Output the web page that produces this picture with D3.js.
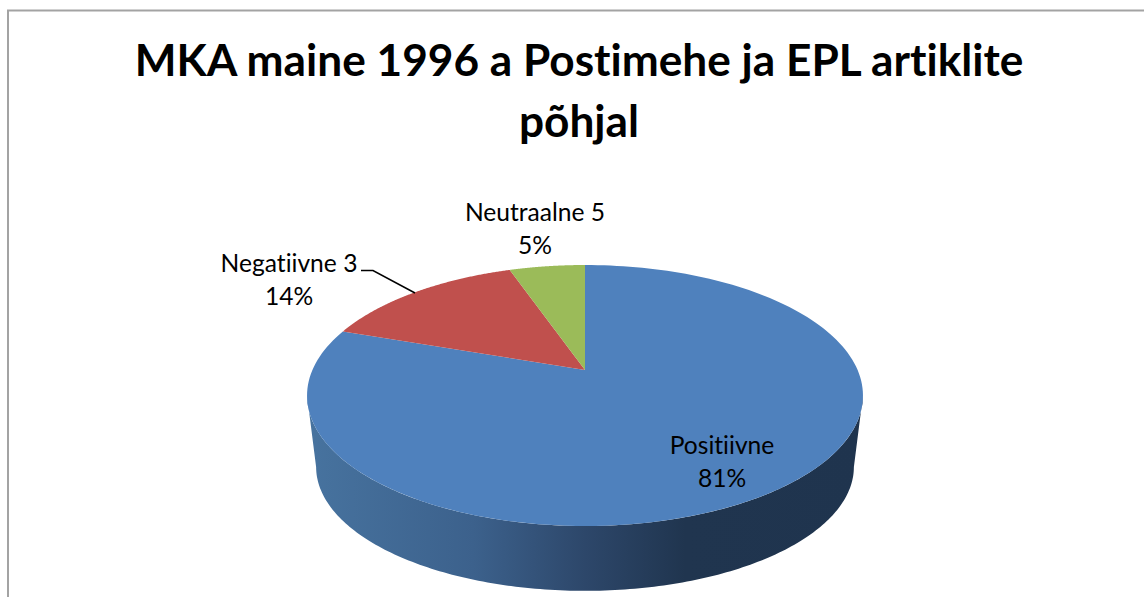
<!DOCTYPE html>
<html>
<head>
<meta charset="utf-8">
<script src="https://cdn.jsdelivr.net/npm/d3@7"></script>
<style>
  html, body { margin: 0; padding: 0; background: #fff; overflow: hidden; }
  text { font-family: Lato, "Open Sans", sans-serif; fill: #000; font-variant-ligatures: none; }
</style>
</head>
<body>
<div id="chart"></div>
<script>
let titleLines = ['MKA maine 1996 a Postimehe ja EPL artiklite', 'põhjal']
let categories = ['Positiivne', 'Negatiivne 3', 'Neutraalne 5']
let percentLabels = ['81%', '14%', '5%']
// slice sizes as measured on the picture, the printed labels are rounded
let sliceShares = [80.3, 14.4, 5.3]
let colors = ['#4f81bd', '#c0504d', '#9bbb59']

let width = 1144
let height = 597

let svg = d3
  .select('#chart')
  .append('svg')
  .attr('width', width)
  .attr('height', height)

// chart frame, cut off by the right and bottom of the picture
svg
  .append('path')
  .attr('d', `M8,${height} V10.5 H${width}`)
  .attr('fill', 'none')
  .attr('stroke', '#a3a3a3')
  .attr('stroke-width', 2)

svg
  .selectAll('.title')
  .data(titleLines)
  .enter()
  .append('text')
  .attr('class', 'title')
  .attr('x', 579)
  .attr('y', (d, i) => 76 + i * 61)
  .attr('text-anchor', 'middle')
  .attr('font-size', 44.2)
  .attr('font-weight', 'bold')
  .text(d => d)

// the 3d look: a circle seen through a perspective projection
let tilt = 0.1954
let topRing = { x: 585, y: 370, rx: 272.6, ry: 125.5 }
let bottomRing = { x: 585, y: 442.7, rx: 263.7, ry: 119.2 }

function project(ring, angle) {
  let u = Math.sin(angle)
  let v = Math.cos(angle)
  let w = 1 + tilt * v
  return [ring.x + (ring.rx * u) / w, ring.y - (ring.ry * v) / w]
}

function arcPoints(ring, from, to) {
  let steps = 180
  return d3.range(steps + 1).map(i => project(ring, from + ((to - from) * i) / steps))
}

let line = d3.line()

// side wall, from the widest point on the right round the front to the left
let wallStart = Math.acos(-tilt)
let wallEnd = Math.PI * 2 - wallStart

let defs = svg.append('defs')
let wallGradient = defs
  .append('linearGradient')
  .attr('id', 'wall')
  .attr('gradientUnits', 'userSpaceOnUse')
  .attr('x1', 307)
  .attr('x2', 863)
  .attr('y1', 0)
  .attr('y2', 0)

wallGradient
  .selectAll('stop')
  .data([
    { offset: 0, color: '#47739f' },
    { offset: 0.3, color: '#3c618c' },
    { offset: 0.5, color: '#2d476a' },
    { offset: 0.68, color: '#20354f' },
    { offset: 1, color: '#1f344e' }
  ])
  .enter()
  .append('stop')
  .attr('offset', d => d.offset)
  .attr('stop-color', d => d.color)

svg
  .append('path')
  .attr(
    'd',
    line(arcPoints(topRing, wallStart, wallEnd).concat(arcPoints(bottomRing, wallEnd, wallStart))) + 'Z'
  )
  .attr('fill', 'url(#wall)')

let pie = d3
  .pie()
  .sort(null)
  .startAngle(0)
  .endAngle(Math.PI * 2)

let slices = pie(sliceShares)

svg
  .selectAll('.slice')
  .data(slices)
  .enter()
  .append('path')
  .attr('class', 'slice')
  .attr('d', d => line([[topRing.x, topRing.y]].concat(arcPoints(topRing, d.startAngle, d.endAngle))) + 'Z')
  .attr('fill', (d, i) => colors[i])

// leader line of the red slice
svg
  .append('path')
  .attr('d', 'M361,270.5 H373 L415,293')
  .attr('fill', 'none')
  .attr('stroke', '#000')
  .attr('stroke-width', 1.5)

let labelSpots = [
  { x: 722, y: 454 },
  { x: 289, y: 272 },
  { x: 535, y: 221 }
]

let labels = svg
  .selectAll('.label')
  .data(categories)
  .enter()
  .append('text')
  .attr('class', 'label')
  .attr('text-anchor', 'middle')
  .attr('font-size', 24.6)

labels
  .append('tspan')
  .attr('x', (d, i) => labelSpots[i].x)
  .attr('y', (d, i) => labelSpots[i].y)
  .text(d => d)

labels
  .append('tspan')
  .attr('x', (d, i) => labelSpots[i].x)
  .attr('y', (d, i) => labelSpots[i].y + 33)
  .text((d, i) => percentLabels[i])
</script>
</body>
</html>
